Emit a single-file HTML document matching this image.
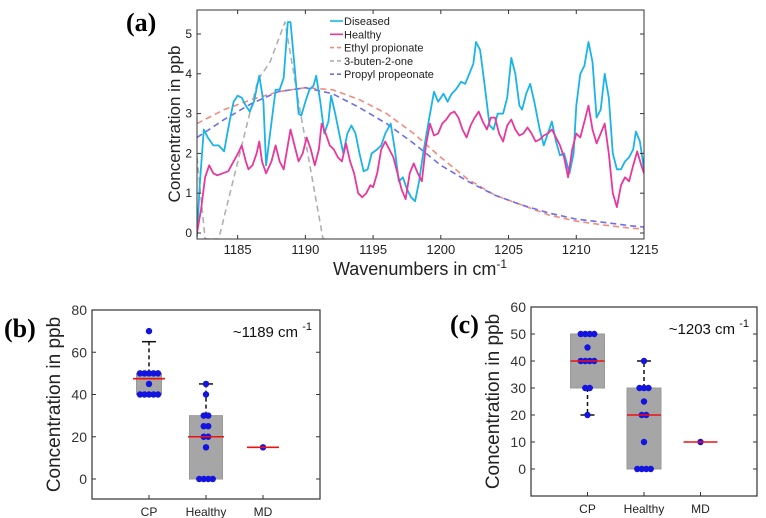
<!DOCTYPE html>
<html><head><meta charset="utf-8"><style>
body{margin:0;background:#fff;width:766px;height:518px;overflow:hidden}
svg{display:block;font-family:"Liberation Sans",sans-serif}
</style></head><body>
<svg id="fig" width="766" height="518" viewBox="0 0 766 518" xmlns="http://www.w3.org/2000/svg">
<text x="126" y="31" font-family="Liberation Serif,serif" font-weight="bold" font-size="26">(a)</text>
<text x="4" y="337" font-family="Liberation Serif,serif" font-weight="bold" font-size="26">(b)</text>
<text x="450" y="333" font-family="Liberation Serif,serif" font-weight="bold" font-size="26">(c)</text>
</svg>
<script>
// ---- Panel (a) data ----
const diseasedX=[1182.0,1182.2,1182.5,1182.8,1183.2,1183.6,1184.0,1184.4,1184.7,1185.0,1185.3,1185.6,1185.9,1186.2,1186.6,1186.9,1187.1,1187.4,1187.8,1188.1,1188.4,1188.7,1188.9,1189.2,1189.5,1189.7,1190.0,1190.3,1190.6,1190.8,1191.1,1191.4,1191.7,1191.9,1192.2,1192.5,1192.8,1193.1,1193.4,1193.7,1194.0,1194.3,1194.6,1194.9,1195.3,1195.6,1195.9,1196.3,1196.6,1196.9,1197.2,1197.5,1197.8,1198.1,1198.4,1198.7,1199.1,1199.5,1199.8,1200.2,1200.5,1200.8,1201.1,1201.5,1201.8,1202.1,1202.4,1202.6,1202.9,1203.2,1203.6,1203.9,1204.2,1204.6,1204.9,1205.2,1205.5,1205.8,1206.0,1206.3,1206.6,1206.9,1207.3,1207.6,1207.9,1208.2,1208.5,1208.8,1209.1,1209.5,1209.8,1210.0,1210.3,1210.6,1210.9,1211.2,1211.5,1211.8,1212.1,1212.4,1212.7,1213.0,1213.3,1213.6,1213.9,1214.2,1214.4,1214.7,1215.0];
const diseasedY=[-0.1,1.2,2.6,2.4,2.2,2.2,2.05,2.8,3.3,3.45,3.4,3.2,3.05,3.3,3.95,3.3,1.7,2.5,3.6,3.6,3.9,5.3,5.3,4.2,3.0,2.95,3.3,3.6,3.7,3.95,3.3,2.5,2.8,3.45,3.0,2.5,2.0,2.5,2.7,2.5,2.0,1.55,1.6,2.0,2.1,2.2,2.5,2.75,2.1,1.3,1.4,1.1,0.9,0.8,1.3,2.0,2.8,3.55,3.3,3.5,3.3,3.5,3.6,3.8,3.75,4.0,4.25,4.8,4.6,3.8,2.7,2.6,3.0,3.0,3.4,4.4,4.0,3.2,3.1,3.5,3.75,3.3,2.6,2.2,2.5,2.8,2.3,1.95,2.0,1.5,2.0,3.2,4.0,4.2,4.8,4.3,2.9,3.1,4.0,3.4,2.0,1.6,1.6,1.8,1.9,2.1,2.55,2.3,1.6];
const healthyX=[1182.0,1182.3,1182.6,1182.9,1183.2,1183.5,1183.9,1184.3,1184.7,1185.1,1185.3,1185.6,1185.8,1186.1,1186.4,1186.6,1186.8,1187.1,1187.5,1187.8,1188.1,1188.4,1188.7,1188.9,1189.2,1189.5,1189.8,1190.1,1190.4,1190.7,1191.0,1191.2,1191.5,1191.8,1192.1,1192.4,1192.7,1193.0,1193.3,1193.6,1193.9,1194.2,1194.5,1194.8,1195.0,1195.3,1195.6,1195.9,1196.2,1196.5,1196.8,1197.1,1197.4,1197.7,1198.0,1198.3,1198.6,1198.9,1199.2,1199.5,1199.8,1200.1,1200.4,1200.7,1201.0,1201.3,1201.6,1201.9,1202.2,1202.5,1202.8,1203.1,1203.4,1203.7,1204.0,1204.3,1204.6,1204.9,1205.2,1205.5,1205.8,1206.1,1206.4,1206.7,1207.0,1207.3,1207.6,1207.9,1208.2,1208.5,1208.8,1209.1,1209.4,1209.7,1210.0,1210.3,1210.6,1210.9,1211.2,1211.5,1211.8,1212.1,1212.4,1212.7,1213.0,1213.3,1213.6,1213.9,1214.2,1214.5,1214.8,1215.0];
const healthyY=[0.0,0.6,1.4,1.7,1.5,1.45,1.5,1.55,1.8,2.05,2.2,1.8,1.6,1.7,2.0,2.3,1.8,1.5,1.8,2.2,1.8,1.6,2.2,2.6,2.2,1.8,2.0,2.4,2.1,1.7,2.1,2.75,2.5,2.2,2.1,1.9,1.8,2.25,1.8,1.5,1.0,0.9,1.0,1.2,1.15,1.5,2.1,2.3,2.1,1.9,1.5,1.1,0.85,1.5,1.75,1.5,1.3,2.2,2.75,2.45,2.5,2.75,2.85,3.0,3.05,2.9,2.6,2.4,2.7,2.9,3.05,2.8,2.6,2.9,2.9,2.5,2.3,2.7,2.85,2.6,2.45,2.5,2.65,2.5,2.3,2.35,2.45,2.5,2.6,2.4,2.2,1.9,1.4,2.1,2.5,2.4,2.8,3.2,2.6,2.25,2.5,2.75,2.0,1.0,0.65,1.2,1.4,1.3,1.7,2.05,1.7,1.5];
const ethylX=[1182,1184,1186,1188,1190,1192,1194,1196,1198,1200,1202,1204,1206,1208,1210,1212,1214,1215];
const ethylY=[2.75,3.1,3.35,3.55,3.65,3.6,3.35,3.0,2.5,1.9,1.35,0.95,0.7,0.45,0.3,0.2,0.12,0.1];
const propylX=[1182,1184,1186,1188,1190,1192,1194,1196,1198,1200,1202,1204,1206,1208,1210,1212,1214,1215];
const propylY=[2.4,2.85,3.25,3.55,3.65,3.5,3.15,2.75,2.25,1.7,1.3,0.95,0.7,0.5,0.35,0.27,0.18,0.15];
const butenX=[1182.0,1182.6,1183.6,1186.5,1187.4,1188.5,1189.6,1191.3,1191.8];
const butenY=[1.9,-0.15,-0.15,3.85,4.3,5.3,3.1,-0.15,-0.15];
const xTicksA=[1185,1190,1195,1200,1205,1210,1215];
const yTicksA=[0,1,2,3,4,5];
const legendLabels=["Diseased","Healthy","Ethyl propionate","3-buten-2-one","Propyl propeonate"];

// ---- Panel (b)/(c) data ----
const categories=["CP","Healthy","MD"];
const bQ1=[40,0,15], bMed=[47.5,20,15], bQ3=[50,30,15], bLo=[40,0,15], bHi=[65,45,15];
const bPoints=[[70,50,50,50,50,50,45,40,40,40,40,40],[45,40,30,30,25,25,20,20,15,0,0,0,0],[15]];
const cQ1=[30,0,10], cMed=[40,20,10], cQ3=[50,30,10], cLo=[20,0,10], cHi=[50,40,10];
const cPoints=[[50,50,50,50,45,40,40,40,40,30,30,20],[40,30,30,30,25,20,20,10,0,0,0,0],[10]];
const yTicksB=[0,20,40,60,80];
const yTicksC=[0,10,20,30,40,50,60];

const NS="http://www.w3.org/2000/svg";
const svg=document.getElementById('fig');
function mk(tag,attrs,parent){const e=document.createElementNS(NS,tag);for(const k in attrs)e.setAttribute(k,attrs[k]);(parent||svg).appendChild(e);return e;}

// ---- Panel (a) ----
const AL=197,AR=644,AT=10,AB=239;
const ax=w=>AL+(w-1182)*(AR-AL)/33;
const ay=v=>233-v*39.8;
const gA=mk('g',{});


const clip=mk('clipPath',{id:'clipA'},gA);
mk('rect',{x:AL,y:AT,width:AR-AL,height:AB-AT},clip);
const plotG=mk('g',{'clip-path':'url(#clipA)'},gA);
function series(xs,ys,color,dash,name,w){
  const d=xs.map((x,i)=>(i?'L':'M')+ax(x).toFixed(1)+','+ay(ys[i]).toFixed(1)).join('');
  const p=mk('path',{d:d,fill:'none',stroke:color,'stroke-width':w,'stroke-dasharray':dash,'stroke-linejoin':'round'},plotG);
  
  
}
series(ethylX,ethylY,'#f28b7c','6,4','ethyl-propionate-line',1.6);
series(butenX,butenY,'#b0b0b0','6,4','buten-one-line',1.6);
series(propylX,propylY,'#6d6df0','6,4','propyl-propeonate-line',1.6);
series(diseasedX,diseasedY,'#1ab4e6','','diseased-line',1.8);
series(healthyX,healthyY,'#e8389c','','healthy-line',1.8);
const frameA=mk('rect',{x:AL,y:AT,width:AR-AL,height:AB-AT,fill:'none',stroke:'#333','stroke-width':1},gA);


xTicksA.forEach(t=>{
  mk('line',{x1:ax(t),x2:ax(t),y1:AB,y2:AB-4,stroke:'#333'},gA);
  mk('line',{x1:ax(t),x2:ax(t),y1:AT,y2:AT+4,stroke:'#333'},gA);
  const tx=mk('text',{x:ax(t),y:AB+15,'font-size':13,'text-anchor':'middle',fill:'#222'},gA);
  tx.textContent=t;
  
  
});
yTicksA.forEach(t=>{
  mk('line',{x1:AL,x2:AL+4,y1:ay(t),y2:ay(t),stroke:'#333'},gA);
  mk('line',{x1:AR,x2:AR-4,y1:ay(t),y2:ay(t),stroke:'#333'},gA);
  const tx=mk('text',{x:AL-5,y:ay(t)+4,'font-size':12,'text-anchor':'end',fill:'#222'},gA);
  tx.textContent=t;
  
  
});
const xlab=mk('text',{x:420,y:275,'font-size':18,'text-anchor':'middle',fill:'#222'},gA);
xlab.innerHTML='Wavenumbers in cm<tspan dy="-7" font-size="12">-1</tspan>';


const ylab=mk('text',{x:0,y:0,'font-size':17,'text-anchor':'middle',fill:'#222',transform:'translate(180,124) rotate(-90)'},gA);
ylab.textContent='Concentration in ppb';


const legColors=['#1ab4e6','#e8389c','#f28b7c','#b0b0b0','#6d6df0'];
legendLabels.forEach((l,i)=>{
  const y=21+i*13.3;
  const g=mk('g',{},gA);
  
  
  mk('line',{x1:330,x2:343,y1:y,y2:y,stroke:legColors[i],'stroke-width':1.6,'stroke-dasharray':i>1?'4,3':''},g);
  const t=mk('text',{x:344,y:y+4,'font-size':11,fill:'#222'},g);
  t.textContent=l;
});

// ---- Box panels ----
function boxPanel(o){
  const g=mk('g',{});
  
  
  const px=c=>o.L+c*(o.R-o.L)/4;
  const py=v=>o.y0-v*o.k;
  categories.forEach((c,i)=>{
    const cx=px(i+1), hw=o.hw[i];
    if(o.hi[i]>o.q3[i]){
      mk('line',{x1:cx,x2:cx,y1:py(o.q3[i]),y2:py(o.hi[i]),stroke:'#111','stroke-dasharray':'4,3','stroke-width':1.5},g);
      mk('line',{x1:cx-7,x2:cx+7,y1:py(o.hi[i]),y2:py(o.hi[i]),stroke:'#111','stroke-width':1.5},g);
    }
    if(o.lo[i]<o.q1[i]){
      mk('line',{x1:cx,x2:cx,y1:py(o.q1[i]),y2:py(o.lo[i]),stroke:'#111','stroke-dasharray':'4,3','stroke-width':1.5},g);
      mk('line',{x1:cx-7,x2:cx+7,y1:py(o.lo[i]),y2:py(o.lo[i]),stroke:'#111','stroke-width':1.5},g);
    }
    if(o.q3[i]>o.q1[i]){
      const b=mk('rect',{x:cx-hw,y:py(o.q3[i]),width:2*hw,height:py(o.q1[i])-py(o.q3[i]),fill:'#a6a6a6',stroke:'#999'},g);
      
      
    }
    const counts={};
    o.pts[i].forEach(v=>{counts[v]=(counts[v]||0)+1;});
    const seen={};
    o.pts[i].forEach(v=>{
      const n=counts[v], k=(seen[v]=(seen[v]||0)+1)-1;
      const off=(k-(n-1)/2)*4.5;
      const p=mk('circle',{cx:cx+off,cy:py(v),r:3.2,fill:'#1414e0'},g);
      
      
    });
    const m=mk('line',{x1:cx-o.mw[i],x2:cx+o.mw[i],y1:py(o.med[i]),y2:py(o.med[i]),stroke:'#ee1111','stroke-width':1.6},g);
    
    
    const t=mk('text',{x:cx,y:o.B+17,'font-size':12,'text-anchor':'middle',fill:'#222'},g);
    t.textContent=c;
    
    
  });
  mk('rect',{x:o.L,y:o.T,width:o.R-o.L,height:o.B-o.T,fill:'none',stroke:'#333','stroke-width':1.2},g);
  o.ticks.forEach(t=>{
    mk('line',{x1:o.L,x2:o.L+4,y1:py(t),y2:py(t),stroke:'#333'},g);
    mk('line',{x1:o.R,x2:o.R-4,y1:py(t),y2:py(t),stroke:'#333'},g);
    const tx=mk('text',{x:o.L-5,y:py(t)+5,'font-size':14,'text-anchor':'end',fill:'#333'},g);
    tx.textContent=t;
    
    
  });
  [1,2,3].forEach(c=>{mk('line',{x1:px(c),x2:px(c),y1:o.B,y2:o.B-4,stroke:'#333'},g);});
  const yl=mk('text',{x:0,y:0,'font-size':19,'text-anchor':'middle',fill:'#222',transform:`translate(${o.ylx},${(o.T+o.B)/2}) rotate(-90)`},g);
  yl.textContent='Concentration in ppb';
  
  
  const an=mk('text',{x:o.R-8,y:o.T+27,'font-size':15,'text-anchor':'end',fill:'#111'},g);
  an.innerHTML=o.ann+' cm <tspan dy="-7" font-size="11">-1</tspan>';
  
  
}
boxPanel({name:'panel-b-chart',L:92,R:320,T:310,B:499,y0:479,k:169/80,q1:bQ1,med:bMed,q3:bQ3,lo:bLo,hi:bHi,pts:bPoints,ticks:yTicksB,hw:[12.5,16.5,0],mw:[16,18,16],ylx:60,ann:'~1189'});
boxPanel({name:'panel-c-chart',L:531,R:757,T:307,B:496,y0:469,k:2.7,q1:cQ1,med:cMed,q3:cQ3,lo:cLo,hi:cHi,pts:cPoints,ticks:yTicksC,hw:[17,17,0],mw:[17,17,17],ylx:499,ann:'~1203'});
</script>
</body></html>
